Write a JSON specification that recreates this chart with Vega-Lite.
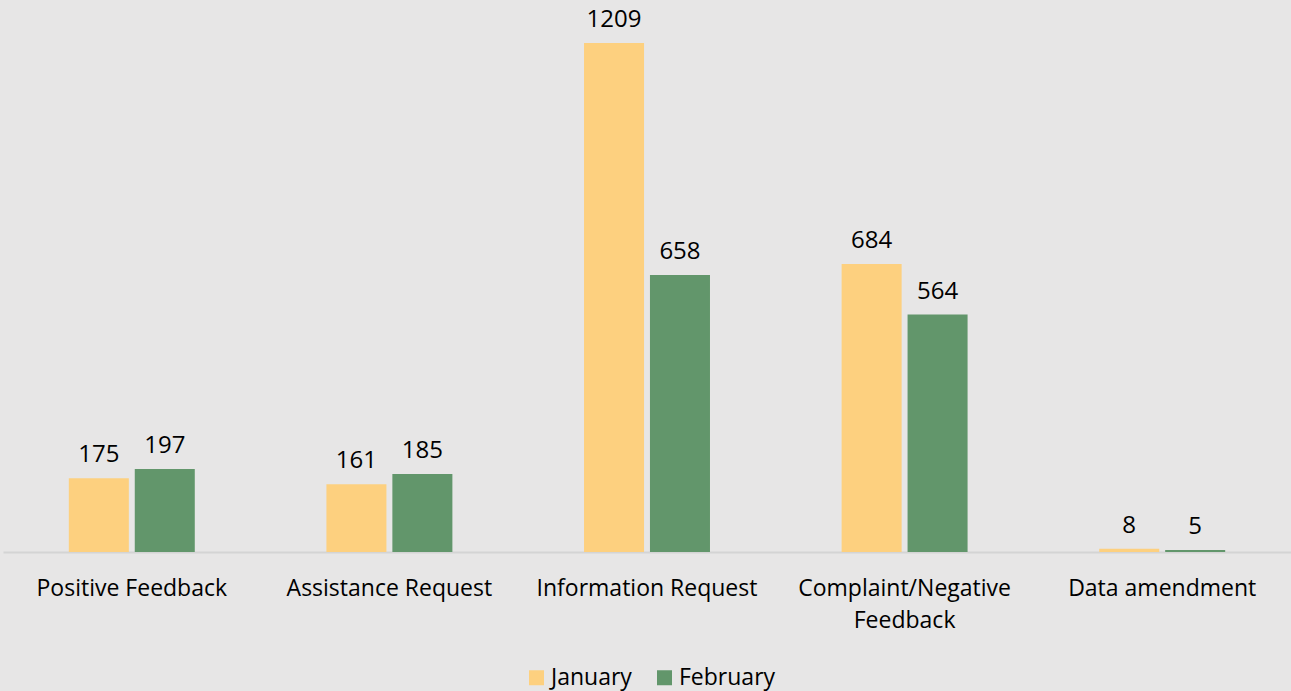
{
  "$schema": "https://vega.github.io/schema/vega-lite/v6.json",
  "width": 1288,
  "height": 552,
  "padding": {"left": 3, "top": 0, "right": 0, "bottom": 139},
  "autosize": {"type": "none"},
  "background": "#e7e6e6",
  "config": {"view": {"stroke": null}, "font": "Open Sans"},
  "data": {
    "values": [
      {"category": "Positive Feedback", "month": "January", "value": 175},
      {"category": "Positive Feedback", "month": "February", "value": 197},
      {"category": "Assistance Request", "month": "January", "value": 161},
      {"category": "Assistance Request", "month": "February", "value": 185},
      {"category": "Information Request", "month": "January", "value": 1209},
      {"category": "Information Request", "month": "February", "value": 658},
      {"category": "Complaint/Negative Feedback", "month": "January", "value": 684},
      {"category": "Complaint/Negative Feedback", "month": "February", "value": 564},
      {"category": "Data amendment", "month": "January", "value": 8},
      {"category": "Data amendment", "month": "February", "value": 5}
    ]
  },
  "encoding": {
    "x": {
      "field": "category",
      "type": "nominal",
      "sort": null,
      "scale": {"paddingInner": 0.511, "paddingOuter": 0.2555},
      "axis": {
        "title": null,
        "labelAngle": 0,
        "labelFontSize": 23,
        "labelColor": "#000000",
        "labelPadding": 25,
        "labelLineHeight": 32,
        "labelLimit": 0,
        "labelExpr": "datum.value == 'Complaint/Negative Feedback' ? ['Complaint/Negative', 'Feedback'] : datum.value",
        "ticks": false,
        "domainColor": "#d4d4d4",
        "domainWidth": 2
      }
    },
    "xOffset": {
      "field": "month",
      "type": "nominal",
      "sort": ["January", "February"],
      "scale": {"paddingInner": 0.09}
    },
    "y": {
      "field": "value",
      "type": "quantitative",
      "scale": {"domain": [0, 1311], "nice": false},
      "axis": null
    }
  },
  "layer": [
    {
      "mark": {"type": "bar"},
      "encoding": {
        "color": {
          "field": "month",
          "type": "nominal",
          "sort": ["January", "February"],
          "scale": {"domain": ["January", "February"], "range": ["#fdd07f", "#62966b"]},
          "legend": {
            "title": null,
            "orient": "none",
            "direction": "horizontal",
            "legendX": 522,
            "legendY": 666,
            "symbolType": "square",
            "symbolSize": 225,
            "symbolStrokeWidth": 0,
            "labelFontSize": 23,
            "labelColor": "#000000",
            "columnPadding": 21,
            "labelOffset": 3
          }
        }
      }
    },
    {
      "mark": {"type": "text", "baseline": "bottom", "dy": -11, "fontSize": 24, "color": "#000000"},
      "encoding": {"text": {"field": "value", "type": "quantitative"}}
    }
  ]
}
